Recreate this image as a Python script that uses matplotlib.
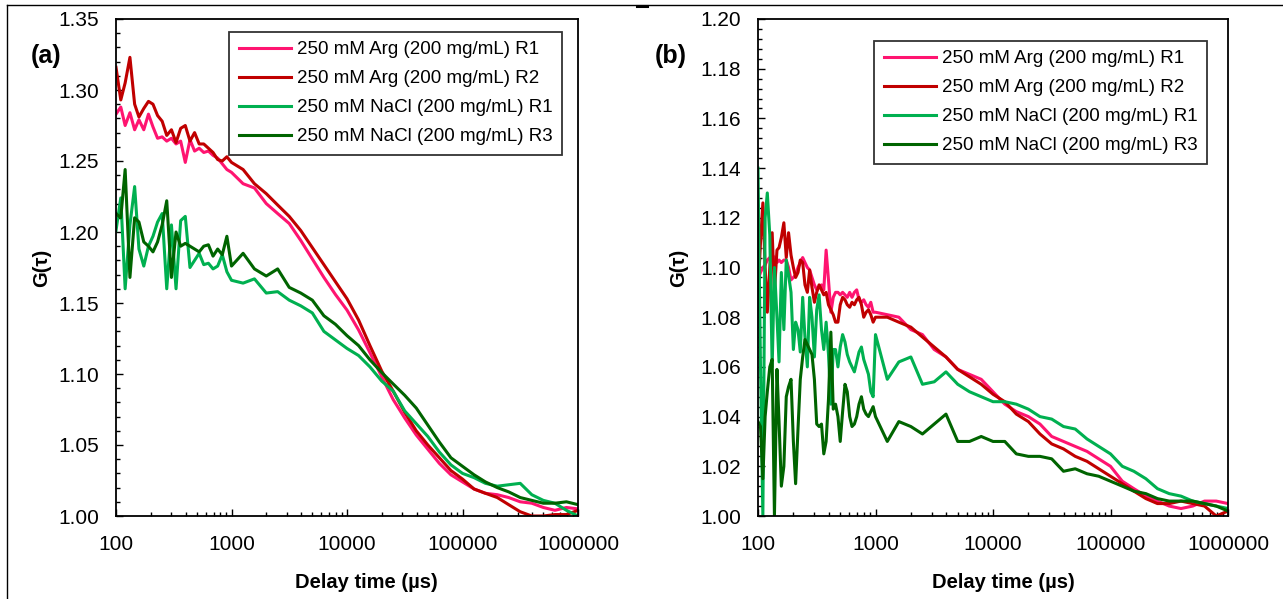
import matplotlib
matplotlib.use("Agg")
import matplotlib.pyplot as plt
from matplotlib.lines import Line2D
from matplotlib.ticker import MultipleLocator, FuncFormatter, LogLocator, NullFormatter

plt.rcParams['font.family'] = ['Liberation Sans', 'DejaVu Sans']

# delay times (µs) for panel (a)
delay_a_us = [100, 110, 120, 132, 145, 158, 174, 191, 209, 229, 251, 275, 302, 331, 363,
              398, 437, 479, 525, 575, 631, 692, 759, 832, 912, 1000,
              1260, 1580, 2000, 2510, 3160, 3980, 5010, 6310, 7940, 10000,
              12600, 15800, 20000, 25100, 31600, 39800, 50100, 63100, 79400, 100000,
              126000, 158000, 200000, 251000, 316000, 398000, 501000, 631000, 794000, 1000000]

# delay times (µs) for panel (b), denser below 1000 where the data are noisy
delay_b_us = [100, 105, 110, 115, 120, 126, 132, 138, 145, 151, 158, 166, 174, 182, 191,
              200, 209, 219, 229, 240, 251, 263, 275, 288, 302, 316, 331, 347, 363, 380,
              398, 417, 437, 457, 479, 501, 525, 550, 575, 603, 631, 661, 692, 724, 759,
              794, 832, 871, 912, 955, 1000,
              1260, 1580, 2000, 2510, 3160, 3980, 5010, 6310, 7940, 10000,
              12600, 15800, 20000, 25100, 31600, 39800, 50100, 63100, 79400, 100000,
              126000, 158000, 200000, 251000, 316000, 398000, 501000, 631000, 794000, 1000000]

labels = ["250 mM Arg (200 mg/mL) R1", "250 mM Arg (200 mg/mL) R2",
          "250 mM NaCl (200 mg/mL) R1", "250 mM NaCl (200 mg/mL) R3"]
colors = ["#ff1470", "#c00000", "#00b050", "#006400"]

# panel (a)
a_arg_r1 = [1.283, 1.288, 1.275, 1.284, 1.272, 1.279, 1.272, 1.283, 1.274, 1.266, 1.267, 1.264, 1.266,
            1.262, 1.264, 1.249, 1.265, 1.257, 1.259, 1.256, 1.257, 1.254, 1.252, 1.248, 1.244, 1.242,
            1.234, 1.231, 1.220, 1.213, 1.206, 1.194, 1.181, 1.168, 1.156, 1.145,
            1.131, 1.115, 1.098, 1.082, 1.069, 1.057, 1.047, 1.037, 1.029, 1.024,
            1.019, 1.016, 1.015, 1.013, 1.010, 1.009, 1.006, 1.004, 1.006, 1.005]
a_arg_r2 = [1.316, 1.293, 1.305, 1.323, 1.290, 1.281, 1.287, 1.292, 1.290, 1.282, 1.278, 1.268, 1.272,
            1.263, 1.273, 1.275, 1.264, 1.270, 1.262, 1.262, 1.259, 1.256, 1.251, 1.250, 1.253, 1.249,
            1.244, 1.234, 1.227, 1.219, 1.211, 1.201, 1.189, 1.177, 1.165, 1.153,
            1.138, 1.120, 1.102, 1.088, 1.073, 1.060, 1.050, 1.041, 1.032, 1.026,
            1.019, 1.016, 1.013, 1.008, 1.003, 1.000, 1.000, 1.001, 1.001, 1.004]
a_nacl_r1 = [1.201, 1.224, 1.160, 1.205, 1.232, 1.188, 1.176, 1.190, 1.197, 1.207, 1.213, 1.160, 1.205,
             1.160, 1.208, 1.211, 1.175, 1.180, 1.185, 1.177, 1.178, 1.174, 1.176, 1.184, 1.172, 1.166,
             1.164, 1.167, 1.157, 1.158, 1.152, 1.148, 1.143, 1.130, 1.124, 1.118,
             1.113, 1.105, 1.095, 1.088, 1.074, 1.065, 1.056, 1.045, 1.036, 1.030,
             1.027, 1.023, 1.021, 1.022, 1.023, 1.015, 1.011, 1.009, 1.004, 1.000]
a_nacl_r3 = [1.213, 1.210, 1.244, 1.168, 1.210, 1.207, 1.193, 1.190, 1.186, 1.193, 1.205, 1.222, 1.168,
             1.200, 1.190, 1.192, 1.190, 1.188, 1.186, 1.190, 1.191, 1.183, 1.188, 1.184, 1.197, 1.176,
             1.185, 1.174, 1.169, 1.174, 1.161, 1.157, 1.152, 1.141, 1.135, 1.127,
             1.120, 1.110, 1.101, 1.093, 1.085, 1.076, 1.064, 1.052, 1.041, 1.035,
             1.029, 1.024, 1.020, 1.017, 1.013, 1.011, 1.009, 1.009, 1.010, 1.008]

# panel (b)
b_arg_r1 = [1.095, 1.098, 1.100, 1.101, 1.103, 1.104, 1.105, 1.104, 1.102, 1.103, 1.102, 1.103, 1.103,
            1.100, 1.095, 1.096, 1.097, 1.100, 1.102, 1.104, 1.102, 1.100, 1.099, 1.096, 1.093, 1.091,
            1.092, 1.093, 1.091, 1.107, 1.095, 1.082, 1.088, 1.090, 1.090, 1.089, 1.090, 1.089, 1.088,
            1.090, 1.088, 1.090, 1.091, 1.087, 1.086, 1.087, 1.085, 1.084, 1.086, 1.082, 1.082,
            1.081, 1.080, 1.075, 1.073, 1.067, 1.064, 1.059, 1.057, 1.055, 1.050,
            1.045, 1.042, 1.040, 1.037, 1.032, 1.030, 1.028, 1.026, 1.023, 1.020,
            1.014, 1.011, 1.008, 1.006, 1.004, 1.003, 1.004, 1.006, 1.006, 1.005]
b_arg_r2 = [1.090, 1.110, 1.126, 1.100, 1.082, 1.100, 1.114, 1.090, 1.107, 1.108, 1.112, 1.118, 1.104,
            1.114, 1.105, 1.100, 1.096, 1.098, 1.103, 1.102, 1.093, 1.090, 1.099, 1.092, 1.086, 1.090,
            1.093, 1.091, 1.089, 1.090, 1.085, 1.083, 1.081, 1.078, 1.078, 1.085, 1.088, 1.087, 1.085,
            1.084, 1.086, 1.085, 1.087, 1.088, 1.085, 1.080, 1.082, 1.083, 1.081, 1.078, 1.080,
            1.080, 1.078, 1.076, 1.072, 1.068, 1.064, 1.059, 1.056, 1.053, 1.049,
            1.046, 1.041, 1.038, 1.033, 1.029, 1.027, 1.024, 1.022, 1.019, 1.016,
            1.013, 1.010, 1.007, 1.005, 1.005, 1.006, 1.005, 1.004, 1.000, 1.002]
b_nacl_r1 = [1.140, 1.060, 1.000, 1.120, 1.130, 1.113, 1.060, 1.100, 1.080, 1.062, 1.098, 1.075, 1.103,
             1.097, 1.090, 1.067, 1.078, 1.075, 1.066, 1.088, 1.072, 1.060, 1.088, 1.080, 1.064, 1.083,
             1.089, 1.075, 1.067, 1.078, 1.065, 1.045, 1.067, 1.067, 1.060, 1.068, 1.073, 1.070, 1.065,
             1.062, 1.060, 1.058, 1.062, 1.066, 1.068, 1.063, 1.060, 1.057, 1.050, 1.048, 1.073,
             1.055, 1.062, 1.064, 1.053, 1.054, 1.058, 1.053, 1.050, 1.048, 1.046,
             1.046, 1.045, 1.043, 1.040, 1.039, 1.036, 1.035, 1.031, 1.028, 1.025,
             1.020, 1.018, 1.015, 1.011, 1.009, 1.008, 1.006, 1.005, 1.004, 1.003]
b_nacl_r3 = [1.038, 1.036, 1.015, 1.040, 1.050, 1.060, 1.063, 1.000, 1.059, 1.038, 1.012, 1.020, 1.048,
             1.052, 1.055, 1.030, 1.013, 1.035, 1.055, 1.064, 1.071, 1.069, 1.067, 1.065, 1.055, 1.037,
             1.036, 1.037, 1.025, 1.030, 1.047, 1.074, 1.043, 1.045, 1.040, 1.030, 1.042, 1.053, 1.050,
             1.040, 1.036, 1.037, 1.040, 1.045, 1.048, 1.043, 1.041, 1.040, 1.042, 1.044, 1.040,
             1.030, 1.038, 1.036, 1.033, 1.037, 1.041, 1.030, 1.030, 1.032, 1.030,
             1.030, 1.025, 1.024, 1.024, 1.023, 1.018, 1.019, 1.017, 1.016, 1.014,
             1.012, 1.010, 1.009, 1.007, 1.006, 1.006, 1.006, 1.005, 1.004, 1.002]

W, H = 1283, 599
fig = plt.figure(figsize=(W / 100, H / 100), dpi=100)


def make_panel(rect, xs, series, ymax, major, minor, leg_anchor, ylab_x, xlab_x):
    ax = fig.add_axes(rect)
    for ys, lab, col in zip(series, labels, colors):
        ax.plot(xs, ys, color=col, lw=2.2, label=lab)
    ax.set_xscale('log')
    ax.set_xlim(100, 1000000)
    ax.set_ylim(1.0, ymax)
    ax.yaxis.set_major_locator(MultipleLocator(major))
    ax.yaxis.set_minor_locator(MultipleLocator(minor))
    ax.yaxis.set_major_formatter(FuncFormatter(lambda v, p: f"{v:.2f}"))
    ax.xaxis.set_major_locator(LogLocator(base=10, numticks=10))
    ax.xaxis.set_minor_locator(LogLocator(base=10, subs=range(2, 10), numticks=50))
    ax.xaxis.set_major_formatter(FuncFormatter(lambda v, p: f"{int(round(v))}"))
    ax.xaxis.set_minor_formatter(NullFormatter())
    ax.tick_params(which='both', direction='in', labelsize=15, top=False, right=False, width=1)
    ax.tick_params(which='major', length=5)
    ax.tick_params(which='minor', length=3)
    ax.tick_params(axis='y', which='major', pad=12)
    ax.tick_params(axis='x', which='major', pad=14)
    for s in ax.spines.values():
        s.set_linewidth(1.3)
    ax.set_xlabel('Delay time (µs)', fontsize=14.5, fontweight='bold')
    ax.set_ylabel('G(τ)', fontsize=14.5, fontweight='bold')
    ax.xaxis.set_label_coords(xlab_x, -0.115)
    ax.yaxis.set_label_coords(ylab_x, 0.5)
    leg = ax.legend(loc='upper right', bbox_to_anchor=leg_anchor, borderaxespad=0,
                    fontsize=13.5, frameon=True, fancybox=False, handlelength=2.8,
                    labelspacing=0.63, handletextpad=0.3, borderpad=0.5)
    leg.get_frame().set_edgecolor('black')
    leg.get_frame().set_linewidth(1.3)
    return ax


bottom = (H - 516) / H
height = (516 - 19) / H
make_panel([116 / W, bottom, 462 / W, height], delay_a_us,
           [a_arg_r1, a_arg_r2, a_nacl_r1, a_nacl_r3],
           1.35, 0.05, 0.01, (0.965, 0.974), -0.141, 0.543)
make_panel([758 / W, bottom, 470 / W, height], delay_b_us,
           [b_arg_r1, b_arg_r2, b_nacl_r1, b_nacl_r3],
           1.20, 0.02, 0.004, (0.955, 0.956), -0.149, 0.523)

fig.text(31 / W, 1 - 56 / H, '(a)', fontsize=18, fontweight='bold', ha='left', va='center')
fig.text(655 / W, 1 - 56 / H, '(b)', fontsize=18, fontweight='bold', ha='left', va='center')

# page border lines
fig.add_artist(Line2D([7 / W, 1], [1 - 5 / H, 1 - 5 / H], color='black', lw=1))
fig.add_artist(Line2D([7 / W, 7 / W], [0, 1 - 5 / H], color='black', lw=1))
fig.add_artist(Line2D([637 / W, 647 / W], [1 - 6 / H, 1 - 6 / H], color='black', lw=2.2))

fig.savefig('out.png', dpi=100)
